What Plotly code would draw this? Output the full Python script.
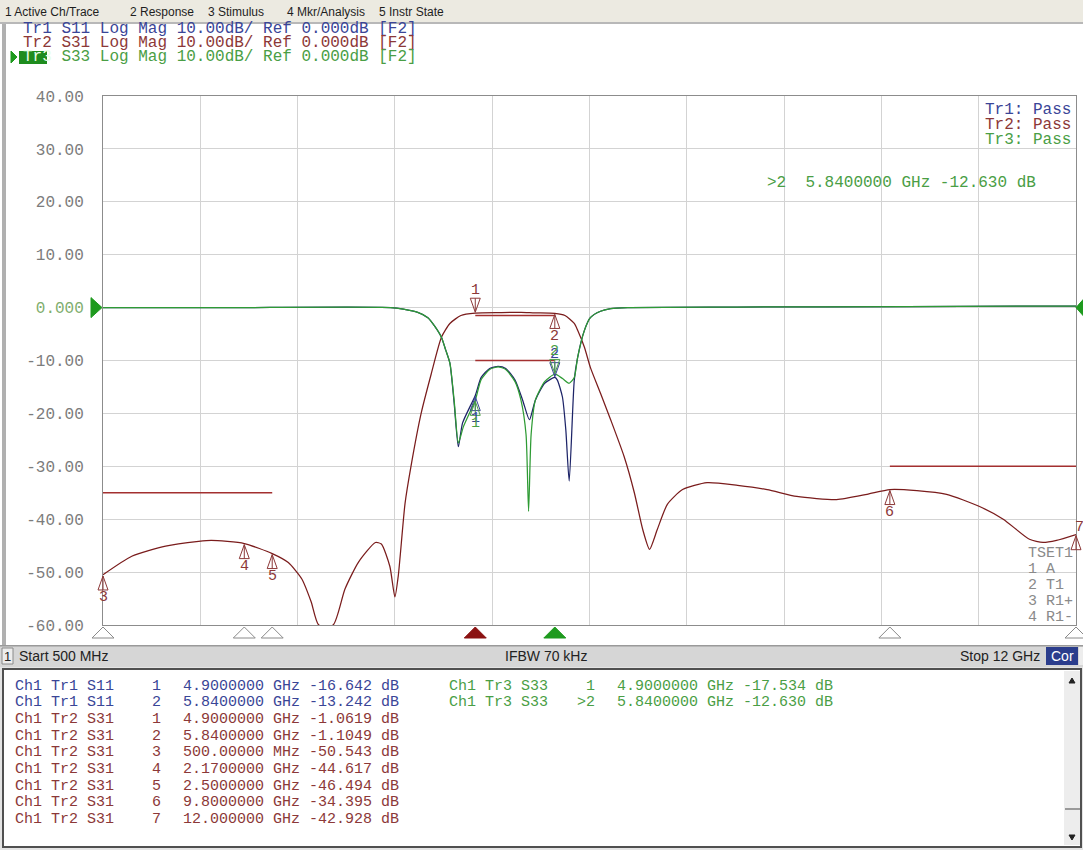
import plotly.graph_objects as go

# ------------------------------------------------------------------ data
start_ghz = 0.5
stop_ghz = 12.0
y_min, y_max = -60.0, 40.0
y_ticks = [40, 30, 20, 10, 0, -10, -20, -30, -40, -50, -60]
y_tick_labels = ["40.00", "30.00", "20.00", "10.00", "0.000", "-10.00",
                 "-20.00", "-30.00", "-40.00", "-50.00", "-60.00"]

# Tr2  S31 (transmission)
s31_f = [0.5, 0.84, 1.24, 1.63, 1.78, 2.17, 2.5, 2.69, 2.85, 2.96, 3.05, 3.22,
         3.36, 3.52, 3.72, 3.79, 3.89, 3.95, 3.99, 4.07, 4.14, 4.26, 4.38, 4.50,
         4.60, 4.73, 4.9, 5.2, 5.44, 5.6, 5.84, 5.96, 6.07, 6.11, 6.19, 6.26,
         6.38, 6.50, 6.66, 6.78, 6.88, 6.96, 7.05, 7.17, 7.35, 7.64, 8.0, 8.35,
         8.70, 9.17, 9.53, 9.8, 10.12, 10.47, 10.86, 11.14, 11.45, 11.61, 11.77, 12.0]
s31_db = [-50.5, -47.0, -45.1, -44.2, -44.0, -44.6, -46.5, -48.2, -51.3, -55.6, -60.0, -60.0,
          -53.2, -48.1, -44.4, -44.7, -48.9, -54.7, -50.7, -37.0, -30.0, -20.0, -12.5, -5.6,
          -3.0, -1.5, -1.06, -0.95, -0.9, -1.0, -1.1, -1.5, -3.0, -4.3, -7.5, -11.3,
          -16.2, -21.2, -28.2, -35.0, -42.0, -45.7, -42.0, -37.2, -34.4, -33.1, -33.6, -34.4,
          -35.7, -36.3, -35.3, -34.4, -34.6, -35.3, -37.6, -40.0, -43.8, -44.4, -44.0, -42.9]

# Tr1  S11 (port 1 return loss)
s11_f = [0.5, 2.0, 3.9, 4.05, 4.22, 4.34, 4.42, 4.50, 4.55, 4.60,
         4.65, 4.70, 4.75, 4.9, 4.97, 5.07, 5.17, 5.26, 5.37, 5.46,
         5.54, 5.61, 5.72, 5.84, 5.87, 5.93, 5.97, 6.01, 6.07, 6.11,
         6.19, 6.26, 6.38, 6.50, 6.70, 8.0, 10.0, 12.0]
s11_db = [0.0, 0.0, 0.0, -0.3, -0.9, -1.9, -3.5, -5.6, -8.0, -10.5,
          -18.0, -26.3, -21.8, -16.6, -13.2, -11.5, -11.1, -11.5, -13.7, -17.5,
          -21.2, -17.5, -14.3, -13.2, -13.7, -16.9, -23.1, -32.8, -13.7, -9.4,
          -4.3, -1.9, -0.7, -0.2, 0.0, 0.1, 0.2, 0.3]

# Tr3  S33 (port 3 return loss)
s33_f = [0.5, 2.0, 3.9, 4.05, 4.22, 4.34, 4.42, 4.50, 4.55, 4.60,
         4.65, 4.70, 4.76, 4.9, 4.97, 5.07, 5.17, 5.26, 5.37, 5.44,
         5.50, 5.53, 5.56, 5.61, 5.72, 5.84, 5.93, 6.01, 6.07, 6.11,
         6.19, 6.26, 6.38, 6.50, 6.70, 8.0, 10.0, 12.0]
s33_db = [0.0, 0.0, 0.0, -0.3, -0.9, -1.9, -3.5, -5.6, -8.0, -10.5,
          -17.5, -25.6, -22.5, -17.5, -13.6, -11.7, -11.2, -11.7, -14.0, -17.5,
          -24.0, -38.5, -24.0, -17.5, -14.0, -12.6, -13.4, -14.3, -13.2, -9.4,
          -4.3, -1.9, -0.7, -0.2, 0.0, 0.1, 0.2, 0.3]

# limit-line segments (Tr2 limit table)
lim_f_start = [0.5, 4.9, 4.9, 9.8]
lim_f_stop = [2.5, 5.84, 5.84, 12.0]
lim_db = [-35.0, -1.5, -10.0, -30.0]

# markers
tr1_mk_id = ["1", "2"]
tr1_mk_f = [4.9, 5.84]
tr1_mk_db = [-16.642, -13.242]
tr2_mk_id = ["1", "2", "3", "4", "5", "6", "7"]
tr2_mk_f = [4.9, 5.84, 0.5, 2.17, 2.5, 9.8, 12.0]
tr2_mk_db = [-1.0619, -1.1049, -50.543, -44.617, -46.494, -34.395, -42.928]
tr3_mk_id = ["1", ">2"]
tr3_mk_f = [4.9, 5.84]
tr3_mk_db = [-17.534, -12.630]

# ------------------------------------------------------------------ style
W, H = 1083, 850
PL, PR, PT, PB = 103, 1076, 96, 625          # plot-area edges (pixels)

C1, C2, C3 = "#1D2468", "#7A1C1C", "#2E9B34"   # trace colours
T1, T2, T3 = "#3A4597", "#8C3838", "#4A9E45"   # text colours
LIMC = "#A33030"
GRID = "#D3D3D3"
MONO = "Liberation Mono, DejaVu Sans Mono, monospace"
SANS = "Liberation Sans, Arial, sans-serif"
NB = "\u00a0"


def px(x):
    return (x - PL) / (PR - PL)


def py(y):
    return (PB - y) / (PB - PT)


def fx(f):
    return (f - start_ghz) / (stop_ghz - start_ghz)


def dy(d):
    return (d - y_min) / (y_max - y_min)


def nb(s):
    return s.replace(" ", NB)


fig = go.Figure()
shapes = []
ann = []

# ------------------------------------------------------------------ traces
for f, d, c, n in [(s31_f, s31_db, C2, "Tr2 S31"),
                   (s11_f, s11_db, C1, "Tr1 S11"),
                   (s33_f, s33_db, C3, "Tr3 S33")]:
    fig.add_trace(go.Scatter(x=f, y=d, mode="lines", name=n,
                             line=dict(color=c, width=1.25, shape="spline", smoothing=0.6),
                             hoverinfo="skip"))

for a, b, v in zip(lim_f_start, lim_f_stop, lim_db):
    fig.add_trace(go.Scatter(x=[a, b], y=[v, v], mode="lines",
                             line=dict(color=LIMC, width=1.6), hoverinfo="skip"))

# ------------------------------------------------------------------ markers
UP_BELOW = "M 0,-1 L -5,-15 L 5,-15 Z M 0,-1 L 0,-15"
DOWN_ABOVE = "M 0,1 L -5,15 L 5,15 Z M 0,1 L 0,15"


def marker(f, d, mid, color, above):
    shapes.append(dict(type="path", xref="paper", yref="paper",
                       xsizemode="pixel", ysizemode="pixel",
                       xanchor=fx(f), yanchor=dy(d),
                       path=DOWN_ABOVE if above else UP_BELOW,
                       line=dict(color=color, width=1), fillcolor="rgba(0,0,0,0)",
                       layer="above"))
    lab = mid.replace(">", "")
    xs = 0
    ys = 23 if above else -23
    if f >= stop_ghz:
        xs, ys = 3, 7
    ann.append(dict(x=f, y=d, xref="x", yref="y", text=lab, showarrow=False,
                    xshift=xs, yshift=ys, font=dict(family=MONO, size=15, color=color)))


for i, f, d in zip(tr2_mk_id, tr2_mk_f, tr2_mk_db):
    marker(f, d, i, T2, above=(i == "1"))
for i, f, d in zip(tr1_mk_id, tr1_mk_f, tr1_mk_db):
    marker(f, d, i, T1, above=(i != "1"))
for i, f, d in zip(tr3_mk_id, tr3_mk_f, tr3_mk_db):
    marker(f, d, i, T3, above=(i != "1"))

# stimulus indicators under the grid
ind_f = sorted(set(tr2_mk_f + tr1_mk_f + tr3_mk_f))
for f in ind_f:
    if f == tr2_mk_f[0]:
        fc, lc = "#8B1212", "#8B1212"
    elif f == tr3_mk_f[1]:
        fc, lc = "#1E9A1E", "#1E9A1E"
    else:
        fc, lc = "white", "#8A8A8A"
    shapes.append(dict(type="path", xref="paper", yref="paper",
                       xsizemode="pixel", ysizemode="pixel",
                       xanchor=fx(f), yanchor=0,
                       path="M -11,-13 L 11,-13 L 0,-2 Z",
                       line=dict(color=lc, width=1), fillcolor=fc, layer="above"))

# reference-level arrows
shapes.append(dict(type="path", xref="paper", yref="paper", xsizemode="pixel", ysizemode="pixel",
                   xanchor=0, yanchor=dy(0), path="M -12,10 L -12,-10 L -1,0 Z",
                   line=dict(color="#1E9A1E", width=1), fillcolor="#1E9A1E", layer="above"))
shapes.append(dict(type="path", xref="paper", yref="paper", xsizemode="pixel", ysizemode="pixel",
                   xanchor=1, yanchor=dy(0), path="M 0,0 L 8,9 L 8,-9 Z",
                   line=dict(color="#1E9A1E", width=1), fillcolor="#1E9A1E", layer="above"))


# ------------------------------------------------------------------ UI chrome
def rect(x0, y0, x1, y1, fill, line=None, lw=1):
    shapes.append(dict(type="rect", xref="paper", yref="paper",
                       x0=px(x0), x1=px(x1), y0=py(y1), y1=py(y0),
                       fillcolor=fill, line=dict(color=line or "rgba(0,0,0,0)", width=lw if line else 0),
                       layer="below"))


def text(x, y, s, color="#222", size=13, fam=SANS, anchor="left"):
    ann.append(dict(x=px(x), y=py(y), xref="paper", yref="paper", text=s, showarrow=False,
                    xanchor=anchor, yanchor="middle", font=dict(family=fam, size=size, color=color)))


# menu bar
rect(0, 0, W, 22, "#ECEAE1")
for xx, s in [(3, "1 Active Ch/Trace"), (128, "2 Response"), (206, "3 Stimulus"),
              (285, "4 Mkr/Analysis"), (377, "5 Instr State")]:
    text(xx, 12, s, "#1E1E1E", 12)
rect(0, 22, W, 24, "#B8B8B8")
# panel left border
rect(2, 24, 6, 645, "#B0B0B0")

# trace header
hdr = " Log Mag 10.00dB/ Ref 0.000dB [F2]"
text(21, 29, nb("Tr1 S11" + hdr), T1, 16, MONO)
text(21, 43, nb("Tr2 S31" + hdr), T2, 16, MONO)
rect(19, 51, 47, 64, "#1E8C1E")
shapes.append(dict(type="path", xref="paper", yref="paper", xsizemode="pixel", ysizemode="pixel",
                   xanchor=px(11), yanchor=py(57), path="M 0,6 L 0,-6 L 6,0 Z",
                   line=dict(color="#1E9A1E", width=1), fillcolor="#1E9A1E"))
text(21, 57, "<span style='color:#E8FFE8'>Tr3</span>" + nb(" S33" + hdr), T3, 16, MONO)

# pass/fail
text(983, 110, nb("Tr1: Pass"), T1, 16, MONO)
text(983, 125, nb("Tr2: Pass"), T2, 16, MONO)
text(983, 140, nb("Tr3: Pass"), T3, 16, MONO)

# active-marker readout
text(765, 183, nb(">2  5.8400000 GHz -12.630 dB"), T3, 16, MONO)

# limit test legend
for k, s in enumerate(["TSET1", "1 A", "2 T1", "3 R1+", "4 R1-"]):
    text(1026, 553 + 16 * k, nb(s), "#8A8A8A", 15, MONO)

# status bar
rect(0, 645, W, 667, "#D6D6D6")
rect(0, 645, W, 646.5, "#9A9A9A")
rect(2, 648, 13, 664, "#EDEDED", "#8A8A8A")
text(7.5, 656, "1", "#222", 13, SANS, "center")
text(17, 656, "Start 500 MHz", "#222", 14)
text(546, 656, "IFBW 70 kHz", "#222", 14, SANS, "center")
text(1042, 656, "Stop 12 GHz", "#222", 14, SANS, "right")
rect(1046, 647, 1078, 665, "#2B3D8C")
text(1062, 656, "Cor", "white", 14, SANS, "center")
rect(1079, 647, 1083, 665, "#EDEDED")

# marker table
rect(0, 667, W, 850, "#E4E4E4")
rect(3, 669, 1081, 847, "white", "#505050", 2)
rect(1064, 671, 1080, 845, "#EDEDED")
shapes.append(dict(type="path", xref="paper", yref="paper", xsizemode="pixel", ysizemode="pixel",
                   xanchor=px(1072), yanchor=py(681), path="M -3,-2 L 3,-2 L 0,3 Z",
                   line=dict(color="#222", width=1), fillcolor="#222"))
shapes.append(dict(type="path", xref="paper", yref="paper", xsizemode="pixel", ysizemode="pixel",
                   xanchor=px(1072), yanchor=py(837), path="M -3,2 L 3,2 L 0,-3 Z",
                   line=dict(color="#222", width=1), fillcolor="#222"))
rect(1065, 808, 1080, 810, "#9A9A9A")


def fmt_stim(f):
    if f < 1:
        return "%.5f MHz" % (f * 1000)
    return "%.*f GHz" % (8 - len(str(int(f))), f)


def fmt_db(d):
    return "%#.5g dB" % d


rows_left = ([("Ch1 Tr1 S11", i, f, d, T1) for i, f, d in zip(tr1_mk_id, tr1_mk_f, tr1_mk_db)] +
             [("Ch1 Tr2 S31", i, f, d, T2) for i, f, d in zip(tr2_mk_id, tr2_mk_f, tr2_mk_db)])
rows_right = [("Ch1 Tr3 S33", i, f, d, T3) for i, f, d in zip(tr3_mk_id, tr3_mk_f, tr3_mk_db)]

for x0, rows in [(13, rows_left), (447, rows_right)]:
    for k, (lab, i, f, d, col) in enumerate(rows):
        yy = 686 + 16.7 * k
        text(x0, yy, nb(lab), col, 15, MONO)
        text(x0 + 150, yy, nb(i), col, 15, MONO, "right")
        text(x0 + 168, yy, nb(fmt_stim(f) + " " + fmt_db(d)), col, 15, MONO)

# ------------------------------------------------------------------ layout
x_grid = [start_ghz + k * (stop_ghz - start_ghz) / 10 for k in range(11)]
y_text = ["<span style='color:#7FAE6E'>%s</span>" % t if v == 0 else t
          for v, t in zip(y_ticks, y_tick_labels)]

fig.update_layout(
    width=W, height=H,
    margin=dict(l=PL, r=W - PR, t=PT, b=H - PB, pad=0),
    paper_bgcolor="white", plot_bgcolor="white",
    showlegend=False,
    xaxis=dict(range=[start_ghz, stop_ghz], tickvals=x_grid, showticklabels=False,
               showgrid=True, gridcolor=GRID, gridwidth=1, zeroline=False,
               showline=True, mirror=True, linecolor="#8C8C8C", linewidth=1, ticks=""),
    yaxis=dict(range=[y_min, y_max], tickvals=y_ticks, ticktext=y_text,
               showgrid=True, gridcolor=GRID, gridwidth=1, zeroline=False,
               showline=True, mirror=True, linecolor="#8C8C8C", linewidth=1, ticks="",
               ticklabelstandoff=15,
               tickfont=dict(family=MONO, size=16, color="#7C7C7C")),
    shapes=shapes,
    annotations=ann,
)

fig.write_html("out.html", config={"displayModeBar": False},
               post_script="document.body.style.margin='0';document.body.style.overflow='hidden';")
